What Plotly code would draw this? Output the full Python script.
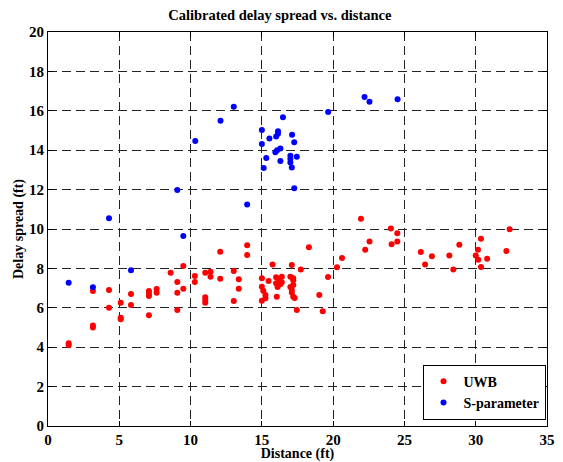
import plotly.graph_objects as go

uwb_x = [1.45, 1.45, 3.15, 3.15, 3.15, 4.28, 4.28, 5.1, 5.1, 5.1, 5.82, 5.82,
         7.08, 7.08, 7.08, 7.08, 7.62, 7.62, 8.6, 9.07, 9.07, 9.07, 9.49, 9.49,
         10.3, 10.3, 11.03, 11.03, 11.03, 11.03, 11.4, 11.4, 12.08, 12.08, 13.03,
         13.38, 13.38, 13.03, 13.97, 13.97, 15.0, 15.0, 15.1, 15.25, 15.25, 15.0,
         15.47, 15.75, 16.0, 16.2, 16.0, 16.3, 16.1, 16.05, 17.1, 17.2, 17.2, 17.1,
         17.2, 17.73, 17.45, 18.3, 16.4, 16.4, 17.0, 17.2, 17.0, 17.1, 17.3, 19.64,
         20.27, 20.62, 19.03, 19.27, 21.95, 22.25, 22.55, 24.05, 24.5, 24.1, 24.5,
         26.15, 26.45, 26.93, 28.15, 28.43, 28.85, 30.0, 30.16, 30.37, 30.18, 30.37,
         30.8, 32.15, 32.38]
uwb_y = [4.2, 4.1, 6.85, 5.1, 5.0, 6.9, 6.0, 6.26, 5.5, 5.42, 6.7, 6.14,
         6.85, 6.7, 6.6, 5.62, 6.95, 6.77, 7.78, 7.31, 6.77, 5.89, 8.12, 6.97,
         7.61, 7.31, 7.78, 6.53, 6.4, 6.26, 7.83, 7.58, 8.85, 7.48, 7.87,
         7.45, 6.97, 6.34, 9.17, 8.68, 7.5, 7.07, 6.87, 6.65, 6.48, 6.36,
         7.36, 8.2, 7.55, 7.45, 7.25, 7.2, 7.05, 6.56, 8.17, 7.5, 7.16, 6.9,
         6.56, 7.95, 5.89, 9.07, 7.58, 7.3, 7.58, 7.4, 7.05, 6.78, 6.5, 7.56,
         8.06, 8.53, 6.65, 5.82, 10.52, 8.95, 9.37, 10.03, 9.79, 9.22, 9.37,
         8.83, 8.2, 8.62, 8.66, 7.95, 9.2, 8.66, 8.95, 9.5, 8.44, 8.07,
         8.49, 8.88, 9.99]

sp_x = [1.45, 3.15, 5.82, 4.28, 9.07, 9.49, 13.03, 12.1, 10.33, 19.65, 16.48,
        15.0, 16.13, 16.13, 16.0, 15.53, 17.12, 17.27, 15.0, 16.3, 16.07, 15.95,
        15.31, 16.3, 17.0, 17.0, 17.0, 17.1, 17.45, 15.13, 17.27, 13.97, 22.2,
        22.55, 24.52]
sp_y = [7.27, 7.04, 7.9, 10.54, 11.98, 9.64, 16.2, 15.5, 14.47, 15.94, 15.67,
        15.03, 14.96, 14.83, 14.7, 14.6, 14.78, 14.4, 14.32, 14.08, 14.0, 13.9,
        13.6, 13.45, 13.72, 13.55, 13.38, 13.12, 13.67, 13.1, 12.07, 11.24, 16.7,
        16.46, 16.58]

x_ticks = [0, 5, 10, 15, 20, 25, 30, 35]
y_ticks = [0, 2, 4, 6, 8, 10, 12, 14, 16, 18, 20]

FONT = "Liberation Serif"

fig = go.Figure()
fig.add_trace(go.Scatter(x=uwb_x, y=uwb_y, mode="markers", name="<b>UWB</b>",
                         marker=dict(color="#ff0000", size=6, line=dict(width=0))))
fig.add_trace(go.Scatter(x=sp_x, y=sp_y, mode="markers", name="<b>S-parameter</b>",
                         marker=dict(color="#0000ff", size=6, line=dict(width=0))))

axis_common = dict(
    showline=True, linecolor="black", linewidth=1, mirror="ticks",
    ticks="inside", ticklen=5, tickcolor="black",
    showgrid=True, gridcolor="#222222", gridwidth=1, griddash="9px,5px",
    zeroline=False, automargin=False,
    tickfont=dict(family=FONT, size=15, color="black", weight="bold"),
)

fig.update_xaxes(range=[0, 35], tickvals=x_ticks,
                 ticktext=[f"<b>{v}</b>" for v in x_ticks], **axis_common,
                 title=dict(text="<b>Distance (ft)</b>", standoff=2,
                            font=dict(family=FONT, size=14, color="black")))
fig.update_yaxes(range=[0, 20], tickvals=y_ticks,
                 ticktext=[f"<b>{v}</b>" for v in y_ticks], **axis_common,
                 title=dict(text="<b>Delay spread (ft)</b>", standoff=2,
                            font=dict(family=FONT, size=14, color="black")))

fig.update_layout(
    width=563, height=462,
    margin=dict(l=48, r=16, t=32, b=36),
    paper_bgcolor="white", plot_bgcolor="white",
    font=dict(family=FONT),
    title=dict(text="<b>Calibrated delay spread vs. distance</b>", x=0.497, xanchor="center",
               xref="container", y=0.9675, yanchor="middle",
               font=dict(family=FONT, size=14.5, color="black")),
    legend=dict(x=0.997, y=0.016, xanchor="right", yanchor="bottom",
                bgcolor="white", bordercolor="black", borderwidth=1,
                font=dict(family=FONT, size=14, color="black"),
                tracegroupgap=0),
    showlegend=True,
)

fig.write_html("out.html")
